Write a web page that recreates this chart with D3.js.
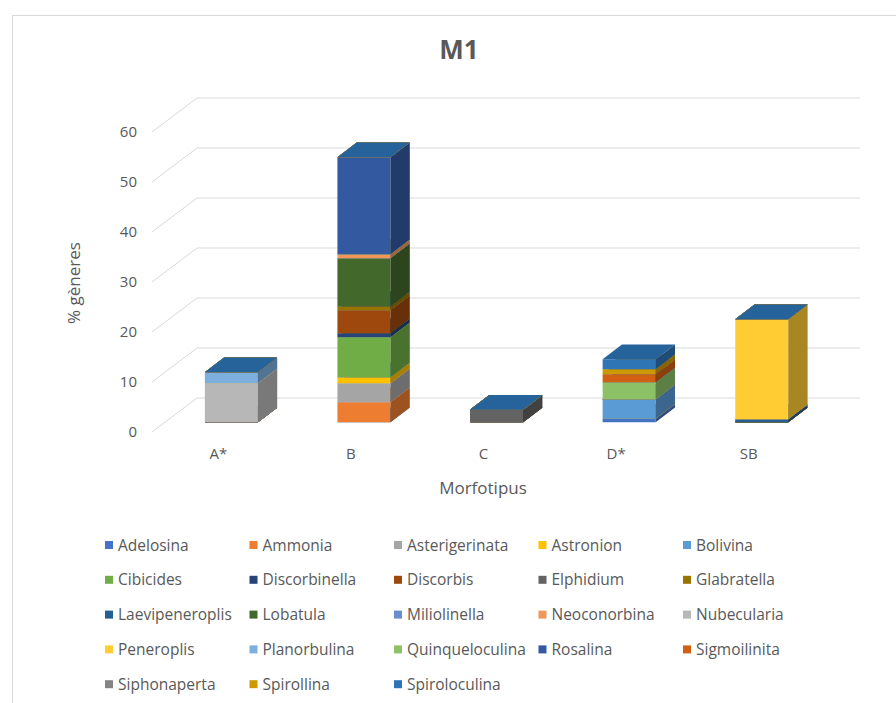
<!DOCTYPE html>
<html><head><meta charset="utf-8">
<script src="https://cdn.jsdelivr.net/npm/d3@7"></script>
<style>body{margin:0;background:#fff}text{font-family:"Open Sans",sans-serif;fill:#595959}</style>
</head><body><svg id="c" width="896" height="703"></svg>
<script>
const categories = ["A*", "B", "C", "D*", "SB"];
const seriesNames = ["Adelosina","Ammonia","Asterigerinata","Astronion","Bolivina","Cibicides","Discorbinella","Discorbis","Elphidium","Glabratella","Laevipeneroplis","Lobatula","Miliolinella","Neoconorbina","Nubecularia","Peneroplis","Planorbulina","Quinqueloculina","Rosalina","Sigmoilinita","Siphonaperta","Spirollina","Spiroloculina"];
const seriesColors = ["#4472C4","#ED7D31","#A5A5A5","#FFC000","#5B9BD5","#70AD47","#264478","#9E480E","#636363","#997300","#255E91","#43682B","#698ED0","#F1975A","#B7B7B7","#FFCD33","#7CAFDD","#8CC168","#335AA1","#D26012","#848484","#CC9A00","#2E75B6"];
// values per series, one per category (A*, B, C, D*, SB)
const Adelosina       = [0, 0, 0, 0.7, 0];
const Ammonia         = [0, 4.0, 0, 0, 0];
const Asterigerinata  = [0, 3.8, 0, 0, 0];
const Astronion       = [0, 1.2, 0, 0, 0];
const Bolivina        = [0, 0, 0, 3.9, 0];
const Cibicides       = [0, 8.0, 0, 0, 0];
const Discorbinella   = [0, 0.8, 0, 0, 0];
const Discorbis       = [0, 4.6, 0, 0, 0];
const Elphidium       = [0, 0, 2.5, 0, 0];
const Glabratella     = [0, 0.8, 0, 0, 0];
const Laevipeneroplis = [0, 0, 0, 0, 0.6];
const Lobatula        = [0, 9.6, 0, 0, 0];
const Miliolinella    = [0, 0, 0, 0, 0];
const Neoconorbina    = [0, 0.8, 0, 0, 0];
const Nubecularia     = [7.8, 0, 0, 0, 0];
const Peneroplis      = [0, 0, 0, 0, 20.0];
const Planorbulina    = [2.2, 0, 0, 0, 0];
const Quinqueloculina = [0, 0, 0, 3.4, 0];
const Rosalina        = [0, 19.4, 0, 0, 0];
const Sigmoilinita    = [0, 0, 0, 1.6, 0];
const Siphonaperta    = [0, 0, 0, 0, 0];
const Spirollina      = [0, 0, 0, 1.0, 0];
const Spiroloculina   = [0, 0, 0, 2.0, 0];
const yTicks = [0, 10, 20, 30, 40, 50, 60];

const seriesValues = [Adelosina,Ammonia,Asterigerinata,Astronion,Bolivina,Cibicides,Discorbinella,Discorbis,Elphidium,Glabratella,Laevipeneroplis,Lobatula,Miliolinella,Neoconorbina,Nubecularia,Peneroplis,Planorbulina,Quinqueloculina,Rosalina,Sigmoilinita,Siphonaperta,Spirollina,Spiroloculina];

const svg = d3.select("#c");
svg.append("rect").attr("x",12.5).attr("y",15.5).attr("width",900).attr("height",700)
  .attr("fill","#fff").attr("stroke","#d9d9d9");

const DX = 45, DY = -34;
const x = d3.scaleBand().domain(categories).range([152, 815]).paddingInner(0.6).paddingOuter(0.3);
const y = d3.scaleLinear().domain([0, 60]).range([432, 132]);
const P = (px, v, z) => [px + z*DX, y(v) + z*DY];

// gridlines (side wall + back wall)
const g = svg.append("g");
yTicks.forEach(t => {
  const a = P(152, t, 0), b = P(152, t, 1), c = P(815, t, 1);
  g.append("path").attr("d", `M${a}L${b}L${c}`).attr("fill","none").attr("stroke","#d9d9d9").attr("stroke-width",1);
});

// axes
const ya = svg.append("g").attr("transform","translate(140,0)")
  .call(d3.axisLeft(y).tickValues(yTicks).tickSize(0).tickPadding(3));
ya.select(".domain").remove();
ya.selectAll("text").style("font-size","15px").style("fill","#595959").style("font-family","'Open Sans',sans-serif");
const xa = svg.append("g").attr("transform","translate(0,432)")
  .call(d3.axisBottom(x).tickSize(0).tickPadding(16));
xa.select(".domain").remove();
xa.selectAll("text").style("font-size","15px").style("fill","#595959").style("font-family","'Open Sans',sans-serif");

// bars
const zf = 0.29, zb = 0.72;
const bars = svg.append("g");
categories.forEach((cat, ci) => {
  let base = 0;
  const x0 = x(cat), x1 = x(cat) + x.bandwidth();
  seriesValues.forEach((vals, si) => {
    const v = vals[ci];
    const top = base + v;
    const col = d3.color(seriesColors[si]);
    const side = d3.rgb(col.r*0.66, col.g*0.66, col.b*0.66);
    const topc = d3.rgb(col.r*0.85, col.g*0.85, col.b*0.85);
    if (v > 0) {
      const f = [P(x0,base,zf),P(x1,base,zf),P(x1,top,zf),P(x0,top,zf)];
      bars.append("path").attr("d","M"+f.join("L")+"Z").attr("fill",col.formatHex());
      const s = [P(x1,base,zf),P(x1,base,zb),P(x1,top,zb),P(x1,top,zf)];
      bars.append("path").attr("d","M"+s.join("L")+"Z").attr("fill",side.formatHex());
    }
    const tp = [P(x0,top,zf),P(x1,top,zf),P(x1,top,zb),P(x0,top,zb)];
    bars.append("path").attr("d","M"+tp.join("L")+"Z").attr("fill",topc.formatHex());
    base = top;
  });
});

// title
svg.append("text").attr("x",459).attr("y",59).attr("text-anchor","middle")
  .style("font-size","26px").style("font-weight","bold").text("M1");
// axis titles
svg.append("text").attr("x",483).attr("y",494).attr("text-anchor","middle")
  .style("font-size","17px").text("Morfotipus");
svg.append("text").attr("transform","translate(80,283) rotate(-90)").attr("text-anchor","middle")
  .style("font-size","17px").text("% gèneres");

// legend
const leg = svg.append("g");
seriesNames.forEach((n, i) => {
  const col = i % 5, row = Math.floor(i / 5);
  const lx = 105 + col*144.5, ly = 545 + row*34.8;
  leg.append("rect").attr("x",lx).attr("y",ly-4).attr("width",8).attr("height",8).attr("fill",seriesColors[i]);
  leg.append("text").attr("x",lx+13).attr("y",ly+5.5).style("font-size","15.5px").text(n);
});
</script></body></html>
